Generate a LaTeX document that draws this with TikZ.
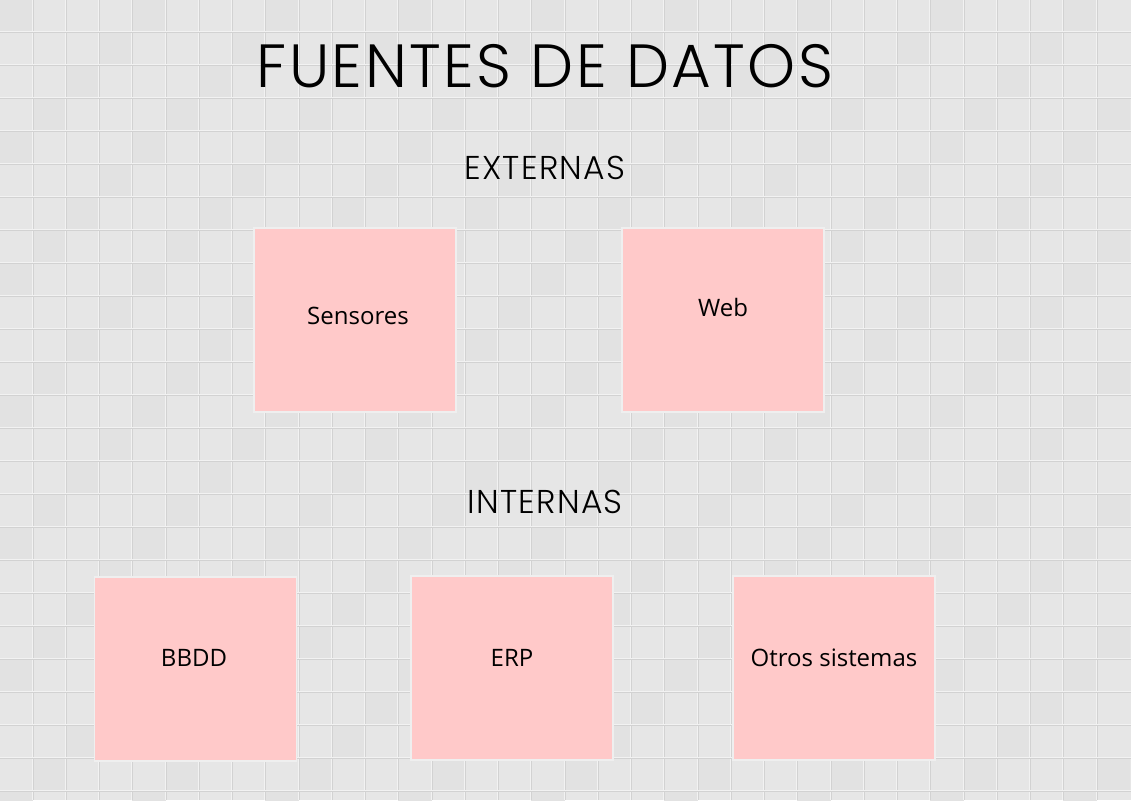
\documentclass[tikz,border=0pt]{standalone}
\usepackage{fontspec}
\setmainfont{Open Sans}
\newfontfamily\titlefont{Poppins Light}[LetterSpace=4]
\definecolor{tilebg}{HTML}{E6E6E6}
\definecolor{tiledark}{HTML}{E2E2E2}
\definecolor{tileline}{HTML}{F2F2F2}
\definecolor{tileshade}{HTML}{D2D2D2}
\definecolor{notepink}{HTML}{FFC9C9}
\definecolor{noteglow}{HTML}{EFEFEF}
\tikzset{
  note/.style = {rectangle, fill = notepink, draw = noteglow, line width = 1.5pt, minimum width = 202pt, minimum height = 184pt, inner sep = 0pt},
  notetext/.style = {anchor = base, font = \fontsize{24}{28}\selectfont},
  heading/.style = {anchor = base, font = \titlefont\fontsize{33}{38}\selectfont}
}
\begin{document}
\begin{tikzpicture}[x = 1pt, y = -1pt]
\useasboundingbox (0,0) rectangle (1131,800);
% tiled wall
\fill[tilebg] (0,0) rectangle (1131,800);
\foreach \i in {0,...,33} {
  \foreach \j in {0,...,24} {
    \pgfmathparse{int(mod(\i*7 + \j*3, 4))}
    \ifnum\pgfmathresult=0
      \fill[tiledark] ({\i*33.25 - 0.75},{\j*33 - 1}) rectangle +(33.25,33);
    \fi
  }
}
\foreach \i in {1,...,33} {
  \draw[tileshade, line width = 1.2pt] ({\i*33.25 - 0.2},0) -- ({\i*33.25 - 0.2},800);
  \draw[tileline, line width = 1pt] ({\i*33.25 - 1.2},0) -- ({\i*33.25 - 1.2},800);
}
\foreach \j in {1,...,24} {
  \draw[tileshade, line width = 1.2pt] (0,{\j*33 - 0.2}) -- (1131,{\j*33 - 0.2});
  \draw[tileline, line width = 1pt] (0,{\j*33 - 1.2}) -- (1131,{\j*33 - 1.2});
}

\node[anchor = base, font = \titlefont\fontsize{61}{70}\selectfont] (title) at (545,87) {FUENTES DE DATOS};
\node[heading] (ext) at (545,179) {EXTERNAS};
\node[heading] (int) at (545,513) {INTERNAS};

% notes
\node[note] (sens) at (355,320) {};
\node[note] (web)  at (723,320) {};
\node[note] (bbdd) at (195.5,669) {};
\node[note] (erp)  at (512,668) {};
\node[note] (otros) at (834,668) {};

\node[notetext] (sensT) at (358,324) {Sensores};
\node[notetext] (webT) at (723,316) {Web};
\node[notetext] (bbddT) at (194,666) {BBDD};
\node[notetext] (erpT) at (512,666) {ERP};
\node[notetext] (otrosT) at (834,666) {Otros sistemas};
\end{tikzpicture}
\end{document}
